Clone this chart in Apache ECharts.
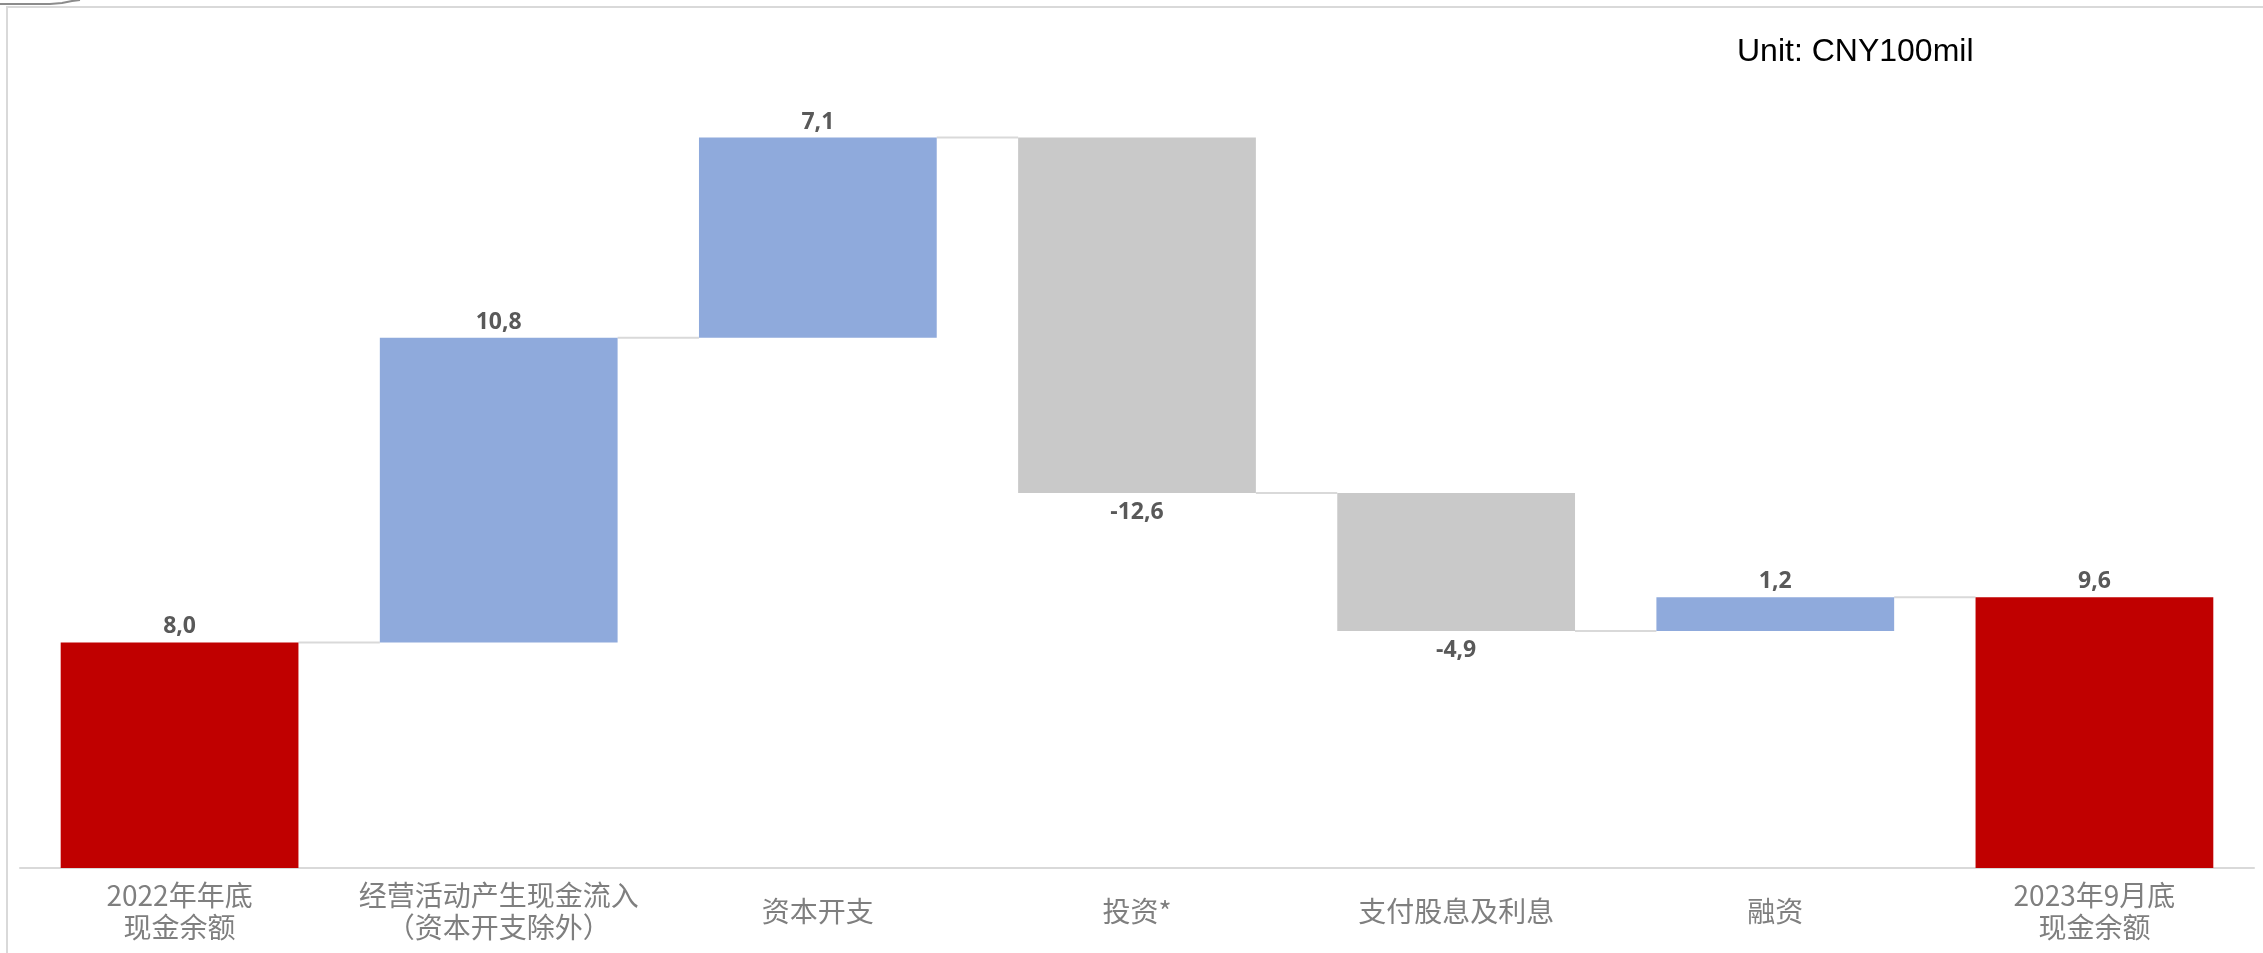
<!DOCTYPE html>
<html>
<head>
<meta charset="utf-8">
<script src="https://cdn.jsdelivr.net/npm/echarts@6/dist/echarts.min.js"></script>
<style>
  html, body { margin: 0; padding: 0; background: #fff; }
  #mainContent { width: 2263px; height: 953px; }
</style>
</head>
<body>
<div id="mainContent"></div>
<script>
// data
var categories = ['2022年年底\n现金余额', '经营活动产生现金流入\n（资本开支除外）', '资本开支', '投资*', '支付股息及利息', '融资', '2023年9月底\n现金余额'];
var changes = [8.0, 10.8, 7.1, -12.6, -4.9, 1.2, 9.6];
var kinds = ['total', 'up', 'up', 'down', 'down', 'up', 'total'];
var unitText = 'Unit: CNY100mil';

var colors = { total: '#C00000', up: '#8FAADC', down: '#C9C9C9' };

// build waterfall pieces
var baseData = [];
var barData = [];
var levels = [];
var running = 0;
for (var i = 0; i < changes.length; i++) {
    var v = changes[i];
    var k = kinds[i];
    if (k === 'total') {
        running = v;
        baseData.push(0);
        barData.push({ value: v, itemStyle: { color: colors.total }, label: { position: 'top' } });
    } else if (k === 'up') {
        baseData.push(running);
        running = running + v;
        barData.push({ value: v, itemStyle: { color: colors.up }, label: { position: 'top' } });
    } else {
        running = running + v;
        baseData.push(running);
        barData.push({ value: -v, itemStyle: { color: colors.down }, label: { position: 'bottom', distance: 8 } });
    }
    levels.push(+running.toFixed(1));
}

// connector lines between neighbouring bars
var connData = [];
for (var j = 0; j < levels.length - 1; j++) {
    connData.push([j, levels[j]]);
}

var myChart = echarts.init(document.getElementById('mainContent'));

var option = {
    backgroundColor: '#fff',
    animation: false,
    title: {
        text: unitText,
        left: 1732,
        top: 31,
        textStyle: {
            fontFamily: 'Liberation Sans',
            fontSize: 32,
            fontWeight: 'normal',
            color: '#000'
        }
    },
    graphic: [
        {
            type: 'rect',
            shape: { x: 7, y: 7, width: 2400, height: 1100 },
            style: { fill: null, stroke: '#d9d9d9', lineWidth: 2 },
            silent: true
        },
        {
            type: 'polyline',
            shape: { points: [[0, 4], [50, 4], [62, 3], [72, 1], [80, 0]] },
            style: { fill: null, stroke: '#8c8c8c', lineWidth: 2 },
            silent: true
        }
    ],
    grid: {
        left: 20,
        right: 9,
        top: 22,
        bottom: 85
    },
    xAxis: {
        type: 'category',
        data: categories,
        axisLine: { lineStyle: { color: '#d9d9d9', width: 2 } },
        axisTick: { show: false },
        axisLabel: {
            interval: 0,
            margin: 43,
            verticalAlign: 'middle',
            color: '#7f7f7f',
            fontSize: 28,
            lineHeight: 32,
            fontFamily: "'Liberation Sans Narrow', 'Noto Sans CJK SC'"
        }
    },
    yAxis: {
        type: 'value',
        min: 0,
        max: 30,
        show: false,
        splitLine: { show: false }
    },
    series: [
        {
            name: 'base',
            type: 'bar',
            stack: 'wf',
            barCategoryGap: '25.5%',
            itemStyle: { color: 'transparent' },
            silent: true,
            data: baseData
        },
        {
            name: 'value',
            type: 'bar',
            stack: 'wf',
            barCategoryGap: '25.5%',
            label: {
                show: true,
                distance: 4,
                color: '#595959',
                fontFamily: 'Open Sans',
                fontWeight: 'bold',
                fontSize: 23,
                formatter: function (p) {
                    return changes[p.dataIndex].toFixed(1).replace('.', ',');
                }
            },
            data: barData
        },
        {
            name: 'connector',
            type: 'custom',
            silent: true,
            z: 1,
            renderItem: function (params, api) {
                var pt = api.coord([api.value(0), api.value(1)]);
                var band = api.size([1, 0])[0];
                var half = band * 0.745 / 2;
                return {
                    type: 'line',
                    shape: { x1: pt[0] + half, y1: pt[1], x2: pt[0] + band - half, y2: pt[1] },
                    style: { stroke: '#d9d9d9', lineWidth: 2 }
                };
            },
            data: connData
        }
    ]
};

myChart.setOption(option);
</script>
</body>
</html>
